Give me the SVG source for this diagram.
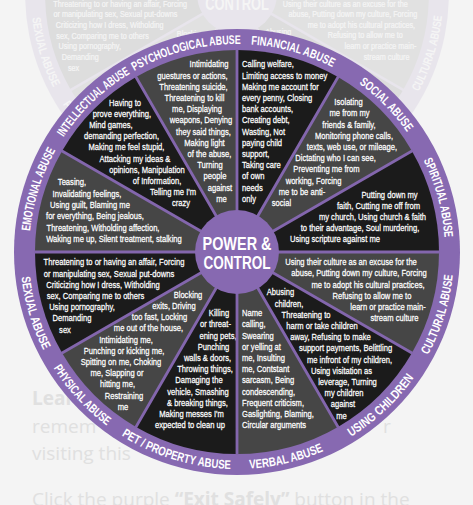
<svg xmlns="http://www.w3.org/2000/svg" xmlns:xlink="http://www.w3.org/1999/xlink" width="473" height="505" viewBox="0 0 473 505">
<style>
.t{font-family:"Liberation Sans",Arial,sans-serif;font-size:9.5px;fill:#fff;stroke:#fff;stroke-width:0.25px;text-anchor:middle}
.ts{text-anchor:start}
.lbl{font-family:"Liberation Sans",Arial,sans-serif;font-size:12.5px;font-weight:bold;fill:#fff}
.gray{fill:#464646}
.black{fill:#1b1b1b}
.sep{stroke:#8366ad;stroke-width:2.8;fill:none}
.pg{font-family:"Open Sans",sans-serif;font-size:19px;fill:#e0e0e0}
</style>
<defs>
<path id="a-psych" d="M134.3,71.1 A208,208 0 0 1 240.6,44.0"/>
<path id="a-fin" d="M251.1,44.5 A208,208 0 0 1 332.4,67.2"/>
<path id="a-soc" d="M359.0,83.5 A208,208 0 0 1 407.0,132.1"/>
<path id="a-spi" d="M423.6,160.2 A208,208 0 0 1 444.5,237.5"/>
<path id="a-emo" d="M30.1,231.0 A208,208 0 0 1 55.6,150.2"/>
<path id="a-int" d="M63.5,137.2 A208,208 0 0 1 130.2,73.5"/>
<path id="a-cul" d="M428.1,354.9 A217,217 0 0 0 452.8,275.1"/>
<path id="a-chi" d="M351.0,436.6 A217,217 0 0 0 413.9,377.7"/>
<path id="a-ver" d="M249.5,468.6 A217,217 0 0 0 323.5,451.0"/>
<path id="a-pet" d="M121.4,435.6 A217,217 0 0 0 230.6,468.9"/>
<path id="a-phy" d="M53.6,368.0 A217,217 0 0 0 106.7,425.5"/>
<path id="a-sex" d="M21.4,276.9 A217,217 0 0 0 43.5,350.2"/>
</defs>
<rect width="473" height="505" fill="#f4f4f4"/>
<g id="page-text" class="pg">
<text x="32" y="405" font-weight="bold">Lear</text>
<text x="32" y="433">remem</text>
<text x="383" y="433">r</text>
<text x="32" y="460">visiting this</text>
<text x="32" y="506">Click the purple <tspan font-weight="bold">“Exit Safely”</tspan> button in the</text>
</g>
<use id="ghost" href="#wheel" xlink:href="#wheel" transform="translate(11.85,-245.4) scale(0.95)" opacity="0.1"/>
<g id="wheel">
<circle id="ring" cx="237" cy="252" r="223" fill="#8769b1"/>
<g id="psychological">
<path class="gray" d="M237,252 L136,77.1 A202,202 0 0 1 237,50 Z"/>
<text class="t" transform="scale(0.8 1)"><tspan x="261.25" y="67.5">Intimidating</tspan><tspan x="240.6" y="78.7">guestures or actions,</tspan><tspan x="241.9" y="89.9">Threatening suicide,</tspan><tspan x="243.1" y="101.1">Threatening to kill</tspan><tspan x="246.25" y="112.3">me, Displaying</tspan><tspan x="251.25" y="123.5">weapons, Denying</tspan><tspan x="254.4" y="134.7">they said things,</tspan><tspan x="255.6" y="145.9">Making light</tspan><tspan x="261.9" y="157.1">of the abuse,</tspan><tspan x="262.5" y="168.3">Turning</tspan><tspan x="268.75" y="179.5">people</tspan><tspan x="275" y="190.7">against</tspan><tspan x="276.9" y="201.9">me</tspan></text>
<text class="lbl"><textPath href="#a-psych" xlink:href="#a-psych" textLength="111" lengthAdjust="spacingAndGlyphs">PSYCHOLOGICAL ABUSE</textPath></text>
</g>
<g id="financial">
<path class="black" d="M237,252 L237,50 A202,202 0 0 1 338,77.1 Z"/>
<text class="t ts" transform="scale(0.8 1)"><tspan x="302.5" y="67.5">Calling welfare,</tspan><tspan x="302.5" y="78.7">Limiting access to money</tspan><tspan x="302.5" y="89.9">Making me account for</tspan><tspan x="302.5" y="101.1">every penny, Closing</tspan><tspan x="302.5" y="112.3">bank accounts,</tspan><tspan x="302.5" y="123.5">Creating debt,</tspan><tspan x="302.5" y="134.7">Wasting, Not</tspan><tspan x="302.5" y="145.9">paying child</tspan><tspan x="302.5" y="157.1">support,</tspan><tspan x="302.5" y="168.3">Taking care</tspan><tspan x="302.5" y="179.5">of own</tspan><tspan x="302.5" y="190.7">needs</tspan><tspan x="302.5" y="201.9">only</tspan></text>
<text class="lbl"><textPath href="#a-fin" xlink:href="#a-fin" textLength="85" lengthAdjust="spacingAndGlyphs">FINANCIAL ABUSE</textPath></text>
</g>
<g id="social">
<path class="gray" d="M237,252 L338,77.1 A202,202 0 0 1 411.9,151 Z"/>
<text class="t" transform="scale(0.8 1)"><tspan x="435.6" y="105.2">Isolating</tspan><tspan x="436.9" y="116.4">me from my</tspan><tspan x="436.25" y="127.6">friends &amp; family,</tspan><tspan x="442.5" y="138.8">Monitoring phone calls,</tspan><tspan x="440" y="150">texts, web use, or mileage,</tspan><tspan x="419.4" y="161.2">Dictating who I can see,</tspan><tspan x="408.1" y="172.4">Preventing me from</tspan><tspan x="391.9" y="183.6">working, Forcing</tspan><tspan x="377.5" y="194.8">me to be anti-</tspan><tspan x="351.9" y="206">social</tspan></text>
<text class="lbl"><textPath href="#a-soc" xlink:href="#a-soc" textLength="68.6" lengthAdjust="spacingAndGlyphs">SOCIAL ABUSE</textPath></text>
</g>
<g id="spiritual">
<path class="black" d="M237,252 L411.9,151 A202,202 0 0 1 439,252 Z"/>
<text class="t" transform="scale(0.8 1)"><tspan x="486.9" y="198.5">Putting down my</tspan><tspan x="473.1" y="209.5">faith, Cutting me off from</tspan><tspan x="465.6" y="220.2">my church, Using church &amp; faith</tspan><tspan x="450" y="230.8">to their advantage, Soul murdering,</tspan><tspan x="418.75" y="241.8">Using scripture against me</tspan></text>
<text class="lbl"><textPath href="#a-spi" xlink:href="#a-spi" textLength="80.6" lengthAdjust="spacingAndGlyphs">SPIRITUAL ABUSE</textPath></text>
</g>
<g id="cultural">
<path class="gray" d="M237,252 L439,252 A202,202 0 0 1 411.9,353 Z"/>
<text class="t" transform="scale(0.8 1)"><tspan x="438.75" y="265.2">Using their culture as an excuse for the</tspan><tspan x="448.75" y="276.4">abuse, Putting down my culture, Forcing</tspan><tspan x="460" y="287.6">me to adopt his cultural practices,</tspan><tspan x="465" y="298.8">Refusing to allow me to</tspan><tspan x="485" y="310">learn or practice main-</tspan><tspan x="493.1" y="321.2">stream culture</tspan></text>
<text class="lbl"><textPath href="#a-cul" xlink:href="#a-cul" textLength="84" lengthAdjust="spacingAndGlyphs">CULTURAL ABUSE</textPath></text>
</g>
<g id="using-children">
<path class="black" d="M237,252 L411.9,353 A202,202 0 0 1 338,426.9 Z"/>
<text class="t" transform="scale(0.8 1)"><tspan x="350.6" y="295.5">Abusing</tspan><tspan x="361.25" y="306.7">children,</tspan><tspan x="382.5" y="317.9">Threatening to</tspan><tspan x="402.5" y="329.1">harm or take children</tspan><tspan x="413.1" y="340.3">away, Refusing to make</tspan><tspan x="431.9" y="351.5">support payments, Belittling</tspan><tspan x="436.9" y="362.7">me infront of my children,</tspan><tspan x="426.9" y="373.9">Using visitation as</tspan><tspan x="434.4" y="385.1">leverage, Turning</tspan><tspan x="430" y="396.3">my children</tspan><tspan x="428.75" y="407.5">against</tspan><tspan x="426.9" y="418.7">me</tspan></text>
<text class="lbl"><textPath href="#a-chi" xlink:href="#a-chi" textLength="86.7" lengthAdjust="spacingAndGlyphs">USING CHILDREN</textPath></text>
</g>
<g id="verbal">
<path class="gray" d="M237,252 L338,426.9 A202,202 0 0 1 237,454 Z"/>
<text class="t ts" transform="scale(0.8 1)"><tspan x="302.5" y="316.2">Name</tspan><tspan x="302.5" y="327.4">calling,</tspan><tspan x="302.5" y="338.6">Swearing</tspan><tspan x="302.5" y="349.8">or yelling at</tspan><tspan x="302.5" y="361">me, Insulting</tspan><tspan x="302.5" y="372.2">me, Contstant</tspan><tspan x="302.5" y="383.4">sarcasm, Being</tspan><tspan x="302.5" y="394.6">condescending,</tspan><tspan x="302.5" y="405.8">Frequent criticism,</tspan><tspan x="302.5" y="417">Gaslighting, Blaming,</tspan><tspan x="302.5" y="428.2">Circular arguments</tspan></text>
<text class="lbl"><textPath href="#a-ver" xlink:href="#a-ver" textLength="76.5" lengthAdjust="spacingAndGlyphs">VERBAL ABUSE</textPath></text>
</g>
<g id="pet-property">
<path class="black" d="M237,252 L237,454 A202,202 0 0 1 136,426.9 Z"/>
<text class="t" transform="scale(0.8 1)"><tspan x="273.75" y="316.2">Killing</tspan><tspan x="269.4" y="327.4">or threat-</tspan><tspan x="272.5" y="338.6">ening pets,</tspan><tspan x="266.9" y="349.8">Punching</tspan><tspan x="259.4" y="361">walls &amp; doors,</tspan><tspan x="256.25" y="372.2">Throwing things,</tspan><tspan x="248.75" y="383.4">Damaging the</tspan><tspan x="247.5" y="394.6">vehicle, Smashing</tspan><tspan x="246.9" y="405.8">&amp; breaking things,</tspan><tspan x="239.4" y="417">Making messes I'm</tspan><tspan x="237.5" y="428.2">expected to clean up</tspan></text>
<text class="lbl"><textPath href="#a-pet" xlink:href="#a-pet" textLength="115.5" lengthAdjust="spacingAndGlyphs">PET / PROPERTY ABUSE</textPath></text>
</g>
<g id="physical">
<path class="gray" d="M237,252 L136,426.9 A202,202 0 0 1 62.1,353 Z"/>
<text class="t" transform="scale(0.8 1)"><tspan x="235" y="297.8">Blocking</tspan><tspan x="217.5" y="309">exits, Driving</tspan><tspan x="199.4" y="320.2">too fast, Locking</tspan><tspan x="185.6" y="331.4">me out of the house,</tspan><tspan x="157.5" y="342.6">Intimidating me,</tspan><tspan x="155" y="353.8">Punching or kicking me,</tspan><tspan x="151.25" y="365">Spitting on me, Choking</tspan><tspan x="146.25" y="376.2">me, Slapping or</tspan><tspan x="146.9" y="387.4">hitting me,</tspan><tspan x="155" y="398.6">Restraining</tspan><tspan x="153.75" y="409.8">me</tspan></text>
<text class="lbl"><textPath href="#a-phy" xlink:href="#a-phy" textLength="78.8" lengthAdjust="spacingAndGlyphs">PHYSICAL ABUSE</textPath></text>
</g>
<g id="sexual">
<path class="black" d="M237,252 L62.1,353 A202,202 0 0 1 35,252 Z"/>
<text class="t" transform="scale(0.8 1)"><tspan x="142.5" y="265.2">Threatening to or having an affair, Forcing</tspan><tspan x="136.25" y="276.6">or manipulating sex, Sexual put-downs</tspan><tspan x="128.75" y="287.8">Criticizing how I dress, Witholding</tspan><tspan x="119.4" y="299.1">sex, Comparing me to others</tspan><tspan x="102.5" y="310.3">Using pornography,</tspan><tspan x="90" y="321.5">Demanding</tspan><tspan x="81.25" y="332.7">sex</tspan></text>
<text class="lbl"><textPath href="#a-sex" xlink:href="#a-sex" textLength="76.9" lengthAdjust="spacingAndGlyphs">SEXUAL ABUSE</textPath></text>
</g>
<g id="emotional">
<path class="gray" d="M237,252 L35,252 A202,202 0 0 1 62.1,151 Z"/>
<text class="t" transform="scale(0.8 1)"><tspan x="90" y="185.2">Teasing,</tspan><tspan x="108.75" y="196.6">Invalidating feelings,</tspan><tspan x="112.5" y="208">Using guilt, Blaming me</tspan><tspan x="118.75" y="219.4">for everything, Being jealous,</tspan><tspan x="128.75" y="230.6">Threatening, Witholding affection,</tspan><tspan x="142.5" y="241.8">Waking me up, Silent treatment, stalking</tspan></text>
<text class="lbl"><textPath href="#a-emo" xlink:href="#a-emo" textLength="85.3" lengthAdjust="spacingAndGlyphs">EMOTIONAL ABUSE</textPath></text>
</g>
<g id="intellectual">
<path class="black" d="M237,252 L62.1,151 A202,202 0 0 1 136,77.1 Z"/>
<text class="t" transform="scale(0.8 1)"><tspan x="156.25" y="105.7">Having to</tspan><tspan x="152.5" y="116.9">prove everything,</tspan><tspan x="138.75" y="128.1">Mind games,</tspan><tspan x="151.9" y="139.3">demanding perfection,</tspan><tspan x="158.1" y="150.5">Making me feel stupid,</tspan><tspan x="168.75" y="161.7">Attacking my ideas &amp;</tspan><tspan x="183.75" y="172.9">opinions, Manipulation</tspan><tspan x="196.25" y="184.1">of Information,</tspan><tspan x="216.25" y="195.3">Telling me I'm</tspan><tspan x="226.25" y="206.5">crazy</tspan></text>
<text class="lbl"><textPath href="#a-int" xlink:href="#a-int" textLength="92.9" lengthAdjust="spacingAndGlyphs">INTELLECTUAL ABUSE</textPath></text>
</g>
<g id="separators">
<path class="sep" d="M237,252 L237,49 M237,252 L338.5,76.2 M237,252 L412.8,150.5 M237,252 L440,252 M237,252 L412.8,353.5 M237,252 L338.5,427.8 M237,252 L237,455 M237,252 L135.5,427.8 M237,252 L61.2,353.5 M237,252 L34,252 M237,252 L61.2,150.5 M237,252 L135.5,76.2"/>
</g>
<g id="center">
<circle cx="237" cy="252" r="42" fill="#8769b1"/>
<text x="237" y="249.5" font-family="'Liberation Sans',Arial,sans-serif" font-size="19" font-weight="bold" fill="#fff" text-anchor="middle" textLength="69" lengthAdjust="spacingAndGlyphs">POWER &amp;</text>
<text x="237" y="268.5" font-family="'Liberation Sans',Arial,sans-serif" font-size="19" font-weight="bold" fill="#fff" text-anchor="middle" textLength="67" lengthAdjust="spacingAndGlyphs">CONTROL</text>
</g>
</g>
</svg>
